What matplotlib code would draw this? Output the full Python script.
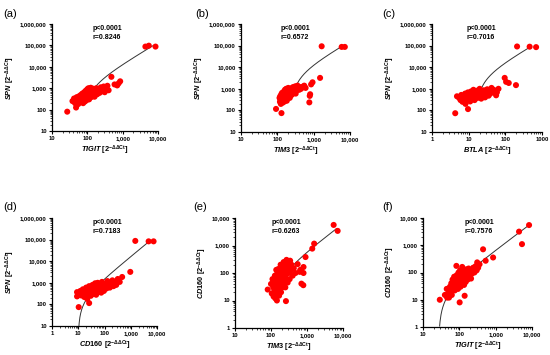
import numpy as np
import matplotlib
matplotlib.use('Agg')
import matplotlib.pyplot as plt
from matplotlib.ticker import LogLocator, FuncFormatter, NullFormatter

plt.rcParams['font.family'] = 'Liberation Sans'
plt.rcParams['mathtext.fontset'] = 'custom'
plt.rcParams['mathtext.rm'] = 'Liberation Sans:bold'
plt.rcParams['mathtext.it'] = 'Liberation Sans:italic:bold'
plt.rcParams['mathtext.bf'] = 'Liberation Sans:bold'

# (a) TIGIT vs SPN
a_x = [27, 48, 38, 42, 45, 47, 50, 52, 54, 55, 58, 60, 62, 63, 65, 68, 70, 70, 72, 75,
       76, 78, 80, 82, 85, 86, 88, 90, 92, 95, 96, 98, 100, 102, 105, 108, 110, 112, 115, 118,
       120, 122, 125, 128, 130, 135, 140, 145, 150, 155, 160, 165, 170, 180, 190, 200, 210, 220, 240, 250,
       270, 290, 310, 340, 370, 400, 480, 590, 700, 770, 850, 4400, 5500, 8500]
a_y = [80, 125, 250, 330, 200, 280, 380, 240, 310, 180, 420, 270, 350, 220, 480, 300, 390, 250, 560, 330,
       200, 450, 290, 650, 380, 240, 520, 760, 340, 440, 280, 620, 900, 480, 360, 1000, 560, 300, 720, 420,
       880, 520, 1050, 380, 650, 800, 480, 950, 560, 700, 400, 860, 620, 1000, 520, 760, 900, 600, 1100, 700,
       850, 1200, 650, 950, 1300, 800, 3400, 1500, 1350, 1700, 2100, 88000, 97000, 88000]

# (b) TIM3 vs SPN
b_x = [92, 130, 115, 118, 120, 122, 125, 128, 130, 132, 135, 138, 140, 142, 145, 148, 150, 152, 155, 158,
       160, 162, 165, 168, 170, 172, 175, 178, 180, 182, 185, 188, 190, 195, 200, 205, 210, 215, 220, 225,
       230, 235, 240, 250, 255, 260, 270, 280, 290, 300, 310, 320, 330, 345, 360, 380, 400, 420, 450, 500,
       550, 600, 760, 780, 800, 850, 930, 1500, 1660, 5900, 7200]
b_y = [117, 75, 380, 250, 450, 320, 200, 550, 400, 280, 650, 350, 480, 230, 600, 300, 420, 750, 520, 260,
       380, 900, 560, 320, 700, 450, 1000, 380, 600, 280, 820, 500, 350, 680, 1100, 450, 560, 750, 380, 900,
       620, 480, 1050, 700, 550, 850, 1200, 650, 950, 780, 1300, 600, 1000, 850, 1400, 1100, 900, 1200, 1000, 1250,
       1400, 1100, 235, 470, 560, 1600, 2000, 3200, 93000, 87000, 87000]

# (c) BTLA vs SPN
c_x = [4.3, 9.6, 4.8, 5.5, 6, 6.3, 6.8, 7, 7.5, 8, 8.2, 8.5, 9, 9.5, 10, 10.5, 11, 11.5, 12, 12.5,
       13, 13.5, 14, 14.5, 15, 15.5, 16, 17, 17.5, 18, 19, 20, 21, 22, 23, 24, 25, 26, 28, 29,
       30, 32, 33, 35, 37, 39, 42, 45, 48, 52, 56, 59, 65, 96, 105, 124, 195, 209, 460, 690]
c_y = [74, 115, 450, 380, 300, 520, 250, 420, 350, 600, 200, 480, 320, 680, 400, 550, 260, 750, 450, 350,
       620, 900, 500, 300, 700, 420, 580, 820, 380, 650, 480, 1000, 550, 350, 750, 480, 620, 850, 400, 700,
       550, 950, 650, 480, 800, 600, 1100, 700, 900, 650, 500, 690, 1000, 3200, 2100, 1860, 1480, 91000, 89000, 85000]

# (d) CD160 vs SPN
d_x = [10.4, 26, 9, 9, 11, 12, 13, 14, 15, 16, 17, 18, 19, 20, 21, 22, 24, 25, 26, 28,
       30, 31, 33, 35, 36, 38, 40, 42, 44, 46, 48, 50, 52, 55, 57, 60, 62, 65, 68, 70,
       75, 78, 80, 85, 90, 95, 100, 110, 120, 130, 140, 150, 160, 180, 200, 220, 250, 280, 320, 380,
       470, 960, 1490, 4800, 7400]
d_y = [75, 115, 370, 235, 300, 420, 260, 350, 500, 300, 220, 400, 280, 600, 350, 180, 450, 320, 700, 400,
       250, 550, 380, 800, 300, 480, 650, 360, 950, 500, 280, 700, 420, 1000, 550, 380, 750, 480, 900, 600,
       350, 700, 1100, 500, 800, 420, 650, 900, 550, 1200, 700, 950, 600, 850, 1300, 700, 1000, 800, 1500, 1100,
       1860, 3200, 87000, 83000, 83000]

# (e) TIM3 vs CD160
e_x = [81, 146, 260, 100, 105, 110, 115, 118, 120, 125, 128, 130, 132, 135, 138, 140, 142, 145, 148, 150,
       152, 155, 158, 160, 162, 165, 168, 170, 172, 175, 178, 180, 182, 185, 188, 190, 195, 200, 205, 210,
       215, 220, 225, 230, 235, 240, 245, 250, 255, 260, 270, 280, 290, 300, 310, 320, 330, 340, 350, 370,
       400, 430, 480, 550, 630, 650, 700, 790, 800, 800, 910, 1400, 1580, 5500, 7100]
e_y = [25, 10, 9.5, 40, 18, 60, 30, 14, 45, 22, 80, 35, 12, 55, 28, 130, 42, 18, 70, 33,
       100, 50, 24, 140, 38, 60, 15, 85, 45, 28, 120, 55, 35, 200, 70, 20, 48, 95, 30, 160,
       60, 40, 250, 75, 110, 50, 180, 30, 90, 65, 300, 140, 45, 220, 100, 160, 60, 280, 120, 200,
       80, 150, 100, 210, 110, 130, 41, 36, 165, 100, 380, 770, 1170, 5600, 3400]

# (f) TIGIT vs CD160
f_x = [29, 46, 52, 102, 140, 40, 45, 50, 55, 58, 60, 62, 65, 68, 70, 72, 75, 78, 80, 82,
       85, 88, 90, 92, 95, 98, 100, 102, 105, 108, 110, 112, 115, 118, 120, 125, 128, 130, 135, 140,
       145, 150, 155, 160, 165, 170, 180, 190, 200, 210, 220, 240, 260, 280, 300, 310, 330, 360, 83, 450,
       530, 850, 4400, 5300, 8300]
f_y = [10, 12, 12, 8, 14, 15, 25, 18, 30, 20, 40, 15, 55, 28, 35, 70, 22, 45, 60, 30,
       80, 40, 50, 25, 100, 35, 65, 45, 120, 30, 75, 55, 40, 90, 160, 50, 70, 110, 35, 60,
       85, 45, 130, 70, 100, 55, 140, 80, 115, 60, 90, 150, 100, 170, 120, 235, 150, 200, 175, 710,
       270, 355, 3160, 1100, 5500]

xs = [a_x, b_x, c_x, d_x, e_x, f_x]
ys = [a_y, b_y, c_y, d_y, e_y, f_y]

letters = ['(a)', '(b)', '(c)', '(d)', '(e)', '(f)']
x_genes = ['TIGIT', 'TIM3', 'BTLA', 'CD160', 'TIM3', 'TIGIT']
y_genes = ['SPN', 'SPN', 'SPN', 'SPN', 'CD160', 'CD160']
r_vals = ['0.8246', '0.6572', '0.7016', '0.7183', '0.6263', '0.7576']
xlims = [(10, 1e4), (10, 1e4), (1, 1e3), (1, 1e4), (10, 1e4), (10, 1e4)]
ylims = [(10, 1e6), (10, 1e6), (10, 1e6), (10, 1e6), (1, 1e4), (1, 1e4)]

# linear regression lines (y = a + b*x), drawn over this x range
fit_a = [-1160, -3990, -3150, -164, -69, -18]
fit_b = [13.7, 16.2, 188, 16.4, 0.632, 0.665]
fit_lo = [170, 350, 23, 10.5, 300, 28.7]
fit_hi = [7000, 5600, 480, 5250, 6600, 8300]

# axes boxes in pixels: left, top, right, bottom
W, H = 550, 355
boxes = [(52, 24, 158, 131), (241, 24, 350, 132), (432, 24, 542, 132),
         (52, 218, 157, 326), (235, 218, 343, 328), (423, 218, 532, 327)]
letter_pos = [(3, 14), (195, 14), (382, 14), (3, 207), (193, 207), (382, 207)]
text_x = [0.38, 0.36, 0.31, 0.39, 0.34, 0.38]

fig = plt.figure(figsize=(5.5, 3.55), dpi=100)

for i in range(6):
    l, t, r, b = boxes[i]
    ax = fig.add_axes([l / W, 1 - b / H, (r - l) / W, (b - t) / H])
    ax.set_xscale('log')
    ax.set_yscale('log')

    xf = np.geomspace(fit_lo[i], fit_hi[i], 200)
    ax.plot(xf, fit_a[i] + fit_b[i] * xf, color='#333333', lw=0.7, zorder=2)
    ax.scatter(xs[i], ys[i], s=19, color='#ff0000', edgecolors='none', zorder=3, clip_on=False)

    ax.set_xlim(*xlims[i])
    ax.set_ylim(*ylims[i])
    for spine in ['top', 'right']:
        ax.spines[spine].set_visible(False)
    for spine in ['left', 'bottom']:
        ax.spines[spine].set_linewidth(0.9)

    if i == 2:
        xfmt = FuncFormatter(lambda v, p: f'{v:.0f}')
    else:
        xfmt = FuncFormatter(lambda v, p: f'{v:,.0f}')
    yfmt = FuncFormatter(lambda v, p: f'{v:,.0f}')
    ax.xaxis.set_major_locator(LogLocator(base=10, numticks=10))
    ax.yaxis.set_major_locator(LogLocator(base=10, numticks=10))
    ax.xaxis.set_minor_locator(LogLocator(base=10, subs=np.arange(2, 10), numticks=10))
    ax.yaxis.set_minor_locator(LogLocator(base=10, subs=np.arange(2, 10), numticks=10))
    ax.xaxis.set_major_formatter(xfmt)
    ax.yaxis.set_major_formatter(yfmt)
    ax.xaxis.set_minor_formatter(NullFormatter())
    ax.yaxis.set_minor_formatter(NullFormatter())
    ax.tick_params(which='major', length=2.5, width=0.8, pad=1.2, labelsize=4.2)
    ax.tick_params(which='minor', length=1.3, width=0.5)
    for lab in ax.get_xticklabels() + ax.get_yticklabels():
        lab.set_fontweight('bold')

    ax.set_xlabel(r'$\mathit{' + x_genes[i] + r'}$ [2$^{-\Delta\Delta \mathrm{Ct}}$]',
                  fontsize=5.3, fontweight='bold', labelpad=2)
    ax.set_ylabel(r'$\mathit{' + y_genes[i] + r'}$ [2$^{-\Delta\Delta \mathrm{Ct}}$]',
                  fontsize=5.3, fontweight='bold', labelpad=2)

    ax.text(text_x[i], 0.99, 'p<0.0001\nr=' + r_vals[i], transform=ax.transAxes,
            ha='left', va='top', fontsize=5, fontweight='bold', linespacing=1.4)

    fig.text(letter_pos[i][0] / W, 1 - letter_pos[i][1] / H, letters[i],
             ha='left', va='center', fontsize=8)

plt.savefig('out.png', dpi=100)
